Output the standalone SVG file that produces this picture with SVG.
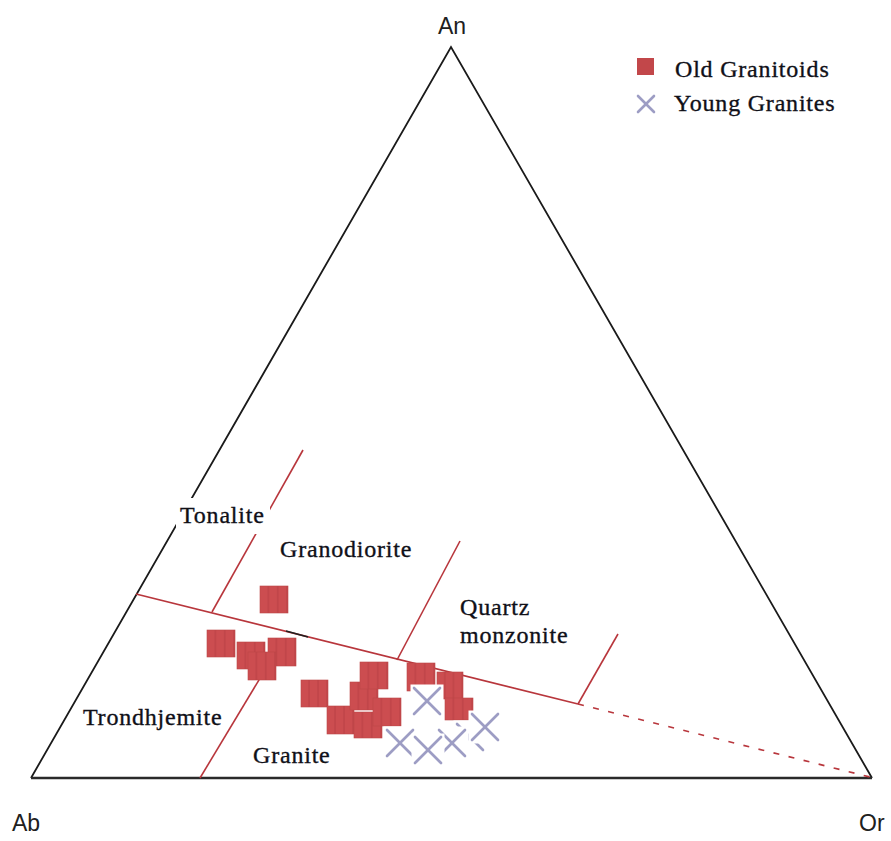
<svg xmlns="http://www.w3.org/2000/svg" width="891" height="841" viewBox="0 0 891 841">
<style>
.lbl{font-family:"Liberation Serif","Times New Roman",serif;font-size:24px;fill:#101018;stroke:#101018;stroke-width:0.35;letter-spacing:0.8px}
.apex{font-family:"Liberation Sans",Arial,sans-serif;font-size:23px;fill:#202020}
.tri{fill:none;stroke:#1a1a1a;stroke-width:1.8}
.div{fill:none;stroke:#b8363c;stroke-width:1.6}
.sq{fill:url(#sqp);stroke:#bc4648;stroke-width:0.6}
.xm{stroke:#9d9dc4;stroke-width:2.6;stroke-linecap:round}
</style>
<defs>
<pattern id="sqp" patternUnits="objectBoundingBox" patternContentUnits="objectBoundingBox" width="0.3334" height="1">
<rect width="0.3334" height="1" fill="#cc4d50"/>
<rect x="0.28" width="0.04" height="1" fill="#bb4145"/>
</pattern>
<g id="cross">
<rect x="-16.5" y="-16.5" width="33" height="33" fill="#ffffff"/>
<line class="xm" x1="-13" y1="-13" x2="13" y2="13"/>
<line class="xm" x1="13" y1="-13" x2="-13" y2="13"/>
</g>
</defs>
<rect width="891" height="841" fill="#ffffff"/>
<g id="frame">
<path class="tri" d="M31,778 L451,47 L872,778"/>
<line x1="31" y1="778" x2="872" y2="778" stroke="#2a2a2a" stroke-width="2.6"/>
</g>
<g id="connectors">
<line class="div" x1="136" y1="594" x2="578" y2="704"/>
<line class="div" x1="578" y1="704" x2="870" y2="777" stroke-dasharray="6 9.5"/>
<line class="div" x1="303" y1="450" x2="212" y2="612"/>
<line class="div" x1="460" y1="541" x2="397" y2="660"/>
<line class="div" x1="618" y1="634" x2="578" y2="704"/>
<line class="div" x1="283" y1="640" x2="200" y2="778"/>
<line x1="286" y1="631" x2="308" y2="637" stroke="#202020" stroke-width="1.4"/>
</g>
<g id="region-labels">
<rect x="176" y="498" width="94" height="36" fill="#ffffff"/>
<text class="lbl" x="180" y="523">Tonalite</text>
<text class="lbl" x="280" y="557">Granodiorite</text>
<text class="lbl" x="460" y="615">Quartz</text>
<text class="lbl" x="460" y="643">monzonite</text>
<text class="lbl" x="83" y="725">Trondhjemite</text>
<text class="lbl" x="253" y="763">Granite</text>
</g>
<g id="apex-labels">
<text class="apex" x="452" y="34" text-anchor="middle">An</text>
<text class="apex" x="12" y="831" font-size="24">Ab</text>
<text class="apex" x="859" y="831" font-size="24">Or</text>
</g>
<g id="old-granitoids">
<rect class="sq" x="260" y="586" width="28" height="27"/>
<rect class="sq" x="207" y="630" width="28" height="27"/>
<rect class="sq" x="237" y="642" width="28" height="27"/>
<rect class="sq" x="268" y="638" width="28" height="28"/>
<rect class="sq" x="248" y="652" width="28" height="28"/>
<rect class="sq" x="301" y="680" width="27" height="27"/>
<rect class="sq" x="327" y="706" width="27" height="28"/>
<rect class="sq" x="350" y="682" width="28" height="28"/>
<rect class="sq" x="360" y="662" width="28" height="27"/>
<rect class="sq" x="354" y="712" width="28" height="26"/>
<rect class="sq" x="373" y="698" width="28" height="28"/>
<rect class="sq" x="407" y="663" width="28" height="28"/>
<rect class="sq" x="437" y="672" width="26" height="27"/>
<rect class="sq" x="445" y="698" width="28" height="22"/>
</g>
<g id="young-granites">
<use href="#cross" x="427" y="701"/>
<use href="#cross" x="470" y="737"/>
<use href="#cross" x="485" y="727"/>
<use href="#cross" x="400" y="743"/>
<use href="#cross" x="452" y="743"/>
<use href="#cross" x="428" y="750"/>
</g>
<g id="legend">
<rect x="637" y="58" width="17" height="17" fill="#c2474a"/>
<text class="lbl" x="675" y="77">Old Granitoids</text>
<line class="xm" x1="638" y1="96" x2="654" y2="112" stroke-width="1.6"/>
<line class="xm" x1="654" y1="96" x2="638" y2="112" stroke-width="1.6"/>
<text class="lbl" x="674" y="111">Young Granites</text>
</g>
</svg>
